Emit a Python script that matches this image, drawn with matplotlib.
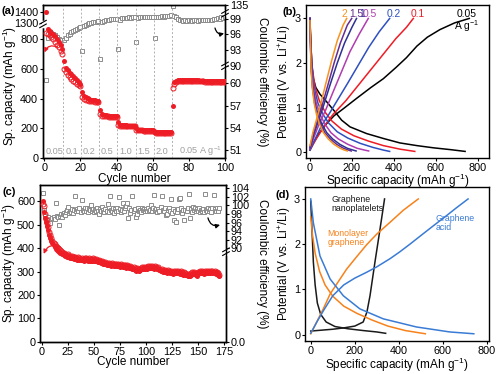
import numpy as np
import matplotlib
matplotlib.use("Agg")
import matplotlib.pyplot as plt
from matplotlib.ticker import FixedLocator, FixedFormatter

plt.rcParams['font.family'] = ['Liberation Sans', 'DejaVu Sans']
plt.rcParams['mathtext.fontset'] = 'custom'
plt.rcParams['mathtext.rm'] = 'Liberation Sans'
plt.rcParams['mathtext.it'] = 'Liberation Sans:italic'
narrow = ['Liberation Sans Narrow', 'Liberation Sans', 'DejaVu Sans']

# ---------------- panel (a): rate capability ----------------
a_cycle = list(range(1, 101))
a_discharge = [1400, 870, 855, 845, 835, 822, 800, 783, 762, 735,
               652, 608, 592, 575, 563, 550, 538, 525, 514, 502,
               445, 420, 410, 403, 398, 394, 390, 388, 386, 384,
               326, 296, 291, 288, 286, 284, 283, 282, 281, 280,
               240, 224, 222, 221, 220, 219, 219, 218, 218, 217,
               200, 192, 191, 190, 190, 189, 189, 188, 188, 188,
               178, 175, 174, 174, 173, 173, 173, 172, 172, 172,
               350, 510, 520, 525, 527, 527, 526, 526, 525, 525,
               524, 524, 523, 523, 523, 522, 522, 522, 521, 521,
               521, 520, 520, 520, 520, 519, 519, 519, 518, 518]
a_charge = [840, 838, 830, 818, 800, 785, 765, 745, 722, 700,
            598, 580, 560, 545, 532, 520, 510, 500, 492, 485,
            412, 400, 394, 389, 386, 383, 381, 379, 377, 376,
            300, 286, 283, 281, 280, 279, 278, 278, 277, 277,
            225, 218, 217, 216, 216, 215, 215, 215, 214, 214,
            190, 187, 186, 186, 185, 185, 185, 184, 184, 184,
            172, 170, 170, 169, 169, 169, 168, 168, 168, 168,
            470, 502, 512, 517, 519, 520, 520, 519, 519, 518,
            518, 518, 517, 517, 517, 516, 516, 516, 515, 515,
            515, 515, 514, 514, 514, 513, 513, 513, 512, 512]
a_ce = [60.5, 95.3, 96.5, 96.3, 96.0, 95.8, 95.5, 95.2, 95.0, 94.9,
        95.0, 95.4, 95.8, 96.1, 96.4, 96.6, 96.9, 97.1, 97.3, 97.5,
        92.8, 97.7, 97.9, 98.0, 98.1, 98.2, 98.3, 98.3, 98.4, 98.5,
        91.2, 98.4, 98.6, 98.7, 98.8, 98.8, 98.9, 98.9, 99.0, 99.0,
        93.3, 98.8, 99.1, 99.1, 99.2, 99.2, 99.3, 99.2, 99.3, 99.4,
        94.5, 99.2, 99.3, 99.3, 99.4, 99.3, 99.4, 99.4, 99.3, 99.4,
        95.4, 99.3, 99.4, 99.4, 99.5, 99.4, 99.5, 99.5, 99.6, 99.7,
        134.8, 99.6, 99.3, 99.0, 98.8, 98.7, 98.6, 98.7, 98.6, 98.7,
        98.7, 98.6, 98.7, 98.7, 98.6, 98.7, 98.7, 98.8, 98.7, 98.7,
        98.8, 98.7, 98.8, 98.9, 99.0, 99.2, 98.9, 99.4, 99.1, 99.3]
a_rate_labels = ["0.05", "0.1", "0.2", "0.5", "1.0", "1.5", "2.0", r"0.05 A g$^{-1}$"]
a_rate_pos = [5.5, 15.2, 24.9, 34.9, 45, 54.8, 65, 86.2]
a_rate_changes = [10.5, 20.5, 30.5, 40.5, 50.5, 60.5, 70.5]

# ---------------- panel (b): rate profiles, (capacity, potential) ----------------
b_rates = ["0.05", "0.1", "0.2", "0.5", "1", "1.5", "2"]
b_colors = ["black", "#ee1c25", "#2e4fc0", "#b03cb0", "#2e3192", "#662d91", "#f7931e"]
b_discharge = [
    [(0, 3.0), (2, 2.7), (5, 2.35), (9, 2.0), (16, 1.65), (28, 1.45), (48, 1.3), (80, 1.13), (119, 0.91),
     (151, 0.72), (191, 0.57), (270, 0.42), (350, 0.31), (429, 0.21), (510, 0.15), (590, 0.1), (670, 0.06),
     (740, 0.02)],
    [(0, 3.0), (3, 2.5), (10, 1.9), (25, 1.45), (45, 1.15), (75, 0.88), (105, 0.7), (150, 0.52),
     (210, 0.37), (280, 0.25), (350, 0.15), (430, 0.07), (500, 0.02)],
    [(0, 3.0), (3, 2.5), (9, 1.9), (20, 1.45), (38, 1.1), (62, 0.85), (90, 0.65), (130, 0.46),
     (180, 0.32), (240, 0.2), (300, 0.11), (350, 0.05), (380, 0.02)],
    [(0, 3.0), (2, 2.5), (7, 1.9), (16, 1.45), (30, 1.1), (48, 0.85), (70, 0.64), (100, 0.44),
     (135, 0.3), (180, 0.18), (225, 0.09), (260, 0.05), (280, 0.03)],
    [(0, 3.0), (2, 2.5), (6, 1.9), (13, 1.45), (24, 1.1), (38, 0.85), (56, 0.64), (80, 0.44),
     (108, 0.3), (142, 0.18), (178, 0.09), (205, 0.05), (220, 0.03)],
    [(0, 3.0), (2, 2.5), (5, 1.9), (12, 1.45), (22, 1.1), (34, 0.85), (50, 0.64), (71, 0.44),
     (97, 0.3), (127, 0.18), (160, 0.09), (183, 0.05), (197, 0.03)],
    [(0, 2.95), (2, 2.5), (5, 1.9), (11, 1.45), (20, 1.1), (31, 0.85), (45, 0.64), (64, 0.44),
     (87, 0.3), (114, 0.18), (144, 0.09), (164, 0.05), (178, 0.03)],
]
b_charge = [
    [(0, 0.05), (15, 0.2), (40, 0.4), (75, 0.62), (115, 0.82), (160, 0.98), (220, 1.2), (290, 1.45),
     (350, 1.65), (410, 1.9), (460, 2.12), (510, 2.38), (560, 2.58), (620, 2.75), (690, 2.9), (760, 3.0)],
    [(0, 0.05), (30, 0.3), (70, 0.6), (110, 0.85), (170, 1.15), (230, 1.5), (290, 1.85), (350, 2.2),
     (410, 2.55), (460, 2.8), (493, 3.0)],
    [(0, 0.05), (25, 0.3), (55, 0.6), (90, 0.85), (135, 1.2), (180, 1.55), (230, 1.95), (280, 2.35),
     (330, 2.7), (380, 3.0)],
    [(0, 0.08), (20, 0.35), (45, 0.65), (75, 0.95), (110, 1.35), (150, 1.8), (190, 2.25), (235, 2.65),
     (278, 3.0)],
    [(0, 0.1), (18, 0.4), (40, 0.7), (65, 1.05), (95, 1.5), (130, 2.0), (165, 2.45), (200, 2.8), (222, 3.0)],
    [(0, 0.12), (15, 0.4), (35, 0.7), (58, 1.05), (85, 1.5), (115, 2.0), (145, 2.45), (178, 2.85), (199, 3.0)],
    [(0, 0.15), (14, 0.45), (32, 0.75), (52, 1.1), (76, 1.55), (103, 2.05), (130, 2.5), (158, 2.85), (175, 3.0)],
]
b_label_x = [747, 514, 399, 286, 248, 219, 164]

# ---------------- panel (c): long cycling ----------------
c_cycle = list(range(1, 171))
c_charge = [590, 578, 545, 525, 507, 490, 470, 455, 443, 432,
            424, 418, 410, 404, 400, 395, 390, 386, 383, 380,
            378, 375, 372, 370, 373, 368, 366, 364, 367, 362,
            360, 363, 358, 356, 360, 357, 354, 358, 355, 352,
            356, 359, 355, 352, 357, 354, 350, 353, 356, 352,
            349, 353, 350, 347, 351, 345, 342, 346, 340, 337,
            341, 336, 333, 337, 334, 331, 335, 332, 330, 334,
            331, 328, 333, 330, 327, 331, 328, 325, 329, 326,
            323, 327, 324, 321, 325, 319, 315, 318, 313, 310,
            314, 311, 308, 312, 315, 318, 316, 320, 317, 321,
            318, 322, 319, 323, 320, 324, 321, 318, 322, 319,
            315, 318, 311, 307, 310, 306, 303, 307, 304, 301,
            305, 302, 299, 303, 300, 297, 301, 298, 302, 299,
            303, 300, 297, 301, 296, 293, 297, 292, 289, 286,
            290, 287, 293, 297, 294, 298, 295, 291, 288, 296,
            299, 302, 299, 303, 300, 297, 301, 298, 302, 299,
            303, 300, 304, 301, 298, 302, 297, 300, 293, 285]
c_discharge = [600, 555, 530, 512, 494, 476, 458, 442, 430, 420,
               412, 405, 398, 392, 388, 384, 381, 378, 375, 373,
               371, 368, 366, 364, 366, 361, 359, 357, 360, 356,
               354, 356, 352, 350, 353, 350, 348, 351, 349, 346,
               349, 352, 348, 346, 350, 347, 344, 347, 349, 346,
               343, 346, 344, 341, 344, 339, 336, 340, 334, 331,
               335, 330, 327, 331, 328, 325, 329, 326, 324, 328,
               325, 322, 327, 324, 321, 325, 322, 319, 323, 320,
               317, 321, 318, 315, 319, 313, 309, 312, 307, 304,
               308, 305, 302, 306, 309, 312, 310, 314, 311, 315,
               312, 316, 313, 317, 314, 318, 315, 312, 316, 313,
               309, 312, 305, 301, 304, 300, 297, 301, 298, 295,
               299, 296, 293, 297, 294, 291, 295, 292, 296, 293,
               297, 294, 291, 295, 290, 287, 291, 286, 283, 280,
               284, 281, 287, 291, 288, 292, 289, 285, 282, 290,
               293, 296, 293, 297, 294, 291, 295, 292, 296, 293,
               297, 294, 298, 295, 292, 296, 291, 294, 287, 280]
c_ce = [103.0, 98.9, 97.6, 97.0, 96.8, 97.2, 96.5, 96.0, 96.9, 97.0,
        97.3, 96.8, 100.5, 97.5, 97.2, 95.4, 97.6, 97.9, 97.4, 98.0,
        98.2, 97.8, 98.4, 99.0, 99.7, 98.3, 98.8, 98.5, 99.1, 98.2,
        98.9, 102.2, 98.6, 99.2, 98.7, 99.4, 98.5, 101.3, 99.0, 98.6,
        99.3, 98.8, 99.5, 98.4, 99.1, 98.9, 100.1, 98.7, 99.2, 98.5,
        99.0, 98.6, 99.4, 98.8, 97.9, 99.2, 98.7, 99.6, 98.9, 98.4,
        99.1, 98.8, 100.3, 98.5, 102.2, 99.0, 98.7, 99.3, 98.2, 99.1,
        98.8, 99.5, 98.6, 102.0, 99.2, 98.4, 99.0, 100.6, 98.7, 99.3,
        99.8, 100.5, 97.1, 99.4, 98.3, 99.0, 102.3, 98.6, 99.2, 97.3,
        98.1, 99.3, 98.7, 99.0, 98.5, 99.4, 98.9, 99.1, 98.6, 99.2,
        98.8, 99.5, 98.7, 99.0, 100.0, 98.6, 99.3, 102.4, 98.9, 99.1,
        98.4, 99.2, 98.8, 99.6, 102.2, 99.0, 98.7, 99.3, 97.8, 97.9,
        98.9, 99.4, 98.6, 101.4, 98.3, 99.2, 96.7, 98.8, 96.2, 98.5,
        99.1, 101.4, 101.8, 99.4, 98.2, 98.9, 96.6, 99.0, 98.6, 99.5,
        102.6, 97.0, 99.2, 98.4, 99.7, 98.9, 99.3, 98.6, 99.1, 98.8,
        99.4, 98.5, 99.0, 98.7, 99.2, 98.4, 102.7, 99.0, 98.6, 99.3,
        98.8, 99.1, 98.5, 99.4, 102.4, 99.2, 98.7, 99.5, 98.8, 99.3]

# ---------------- panel (d): material comparison, (capacity, potential) ----------------
d_names = ["Graphene\nnanoplatelets", "Monolayer\ngraphene", "Graphene\nacid"]
d_colors = ["#1a1a1a", "#f7821b", "#3a7bd5"]
d_discharge = [
    [(0, 2.95), (5, 2.4), (12, 1.6), (20, 1.1), (30, 0.7), (45, 0.45), (70, 0.28), (110, 0.18),
     (170, 0.13), (240, 0.09), (300, 0.06), (340, 0.03)],
    [(0, 2.6), (8, 2.2), (20, 1.8), (40, 1.4), (65, 1.1), (100, 0.85), (150, 0.63), (210, 0.47),
     (280, 0.32), (350, 0.19), (430, 0.09), (520, 0.02)],
    [(0, 3.0), (12, 2.47), (42, 1.74), (88, 1.23), (148, 0.86), (223, 0.57), (329, 0.35), (480, 0.17),
     (631, 0.06), (740, 0.02)],
]
d_charge = [
    [(0, 0.08), (50, 0.1), (100, 0.12), (150, 0.15), (200, 0.19), (238, 0.28), (255, 0.5), (269, 0.86),
     (291, 1.59), (314, 2.32), (335, 3.0)],
    [(0, 0.02), (57, 0.57), (88, 0.9), (118, 1.12), (163, 1.45), (208, 1.72), (254, 1.99), (299, 2.22),
     (359, 2.48), (420, 2.75), (488, 3.0)],
    [(0, 0.03), (30, 0.3), (60, 0.55), (100, 0.86), (150, 1.1), (200, 1.25), (254, 1.38), (300, 1.5),
     (360, 1.68), (404, 1.83), (450, 2.0), (510, 2.23), (560, 2.42), (616, 2.63), (660, 2.8), (714, 3.0)],
]
d_label_xy = [(95, 2.88), (75, 2.13), (568, 2.47)]

red = "#ee1c25"
gray = "#8c8c8c"
tick_fs = 7.8
lab_fs = 8.5


def piecewise(xp, fp):
    return (lambda v: np.interp(v, xp, fp), lambda p: np.interp(p, fp, xp))


def style(ax):
    ax.tick_params(direction='out', length=2.5, width=0.8, labelsize=tick_fs, pad=1.0)
    for s in ax.spines.values():
        s.set_linewidth(1.0)


def axis_break(ax, x, y):
    # gap in the spine plus the two slash marks
    kw = dict(transform=ax.transAxes, clip_on=False, zorder=10)
    ax.plot([x, x], [y - 0.012, y + 0.012], color='white', lw=2.5, **kw)
    ax.plot([x - 0.018, x + 0.018], [y - 0.024, y], color='black', lw=0.8, **kw)
    ax.plot([x - 0.018, x + 0.018], [y, y + 0.024], color='black', lw=0.8, **kw)


def arrow(ax, xy, xytext, color, rad):
    ax.annotate('', xy=xy, xycoords='axes fraction', xytext=xytext,
                arrowprops=dict(arrowstyle='-|>', color=color, lw=0.9, mutation_scale=6,
                                connectionstyle='arc3,rad=%s' % rad, shrinkA=0, shrinkB=0))


fig = plt.figure(figsize=(5, 3.74), dpi=100)

# ----- (a)
ax = fig.add_axes([0.086, 0.5775, 0.364, 0.409])
ax.set_yscale('function', functions=piecewise([0, 903, 1287, 1470], [0, 134, 134.01, 153]))
ax.set_ylim(0, 1470)
ax.set_xlim(-0.7, 100)
for xc in a_rate_changes:
    ax.axvline(xc, color='#b0b0b0', ls=(0, (2, 2)), lw=0.7, zorder=0)
ax.plot(a_cycle, a_charge, 'o', ms=3.6, mfc='none', mec=red, mew=0.7, zorder=3)
ax.plot(a_cycle, a_discharge, 'o', ms=3.6, color=red, mew=0, zorder=4)
ax.yaxis.set_major_locator(FixedLocator([0, 200, 400, 600, 800, 1300, 1400]))
ax.yaxis.set_major_formatter(FixedFormatter(['0', '200', '400', '600', '800', '1300', '1400']))
ax.set_xticks([0, 20, 40, 60, 80, 100])
ax.set_xlabel('Cycle number', fontsize=lab_fs, labelpad=0)
ax.set_ylabel(r'Sp. capacity (mAh g$^{-1}$)', fontsize=lab_fs)
ax.yaxis.set_label_coords(-0.132, 0.47)
for lab, xp in zip(a_rate_labels, a_rate_pos):
    ax.text(xp, 27, lab, color='#a0a0a0', fontsize=6.6, family=narrow, ha='center', va='baseline')
style(ax)
axis_break(ax, 0, 0.876)
arrow(ax, (0.008, 0.69), (0.08, 0.725), red, 0.5)
arrow(ax, (0.995, 0.815), (0.945, 0.85), 'black', 0.5)
ax.text(-0.228, 0.995, '(a)', transform=ax.transAxes, fontsize=8, fontweight='bold', va='top')

ax2 = ax.twinx()
ax2.set_yscale('function', functions=piecewise([49.92, 62.3, 90, 100.1, 133.4, 135],
                                                [0, 91.7, 92.3, 145.0, 145.01, 153]))
ax2.set_ylim(49.92, 135)
ax2.plot(a_cycle, a_ce, 's', ms=3.0, mfc='white', mec=gray, mew=0.7)
ax2.yaxis.set_major_locator(FixedLocator([51, 54, 57, 60, 90, 93, 96, 99, 135]))
ax2.yaxis.set_major_formatter(FixedFormatter(['51', '54', '57', '60', '90', '93', '96', '99', '135']))
ax2.set_ylabel('Coulombic efficiency (%)', fontsize=lab_fs, rotation=270)
ax2.yaxis.set_label_coords(1.236, 0.5)
style(ax2)
axis_break(ax2, 1, 0.603)
axis_break(ax2, 1, 0.946)
ax.set_zorder(ax2.get_zorder() + 1)
ax.patch.set_visible(False)

# ----- (b)
bx = fig.add_axes([0.612, 0.5775, 0.366, 0.409])
for dis, chg, col in zip(b_discharge, b_charge, b_colors):
    bx.plot([p[0] for p in dis], [p[1] for p in dis], color=col, lw=1.1)
    bx.plot([p[0] for p in chg], [p[1] for p in chg], color=col, lw=1.1)
for rate, col, xl in zip(b_rates, b_colors, b_label_x):
    bx.text(xl, 3.11, rate, color=col, fontsize=7.4, family=narrow, ha='center', va='center')
bx.text(747, 2.83, r'A g$^{-1}$', color='black', fontsize=7.4, ha='center', va='center')
bx.set_xlim(-19, 854)
bx.set_ylim(-0.128, 3.3)
bx.set_xticks([0, 200, 400, 600, 800])
bx.set_yticks([0, 1, 2, 3])
bx.set_xlabel(r'Specific capacity (mAh g$^{-1}$)', fontsize=lab_fs, labelpad=-0.5)
bx.set_ylabel(r'Potential (V vs. Li$^{+}$/Li)', fontsize=lab_fs)
bx.yaxis.set_label_coords(-0.071, 0.5)
style(bx)
bx.text(-0.131, 0.987, '(b)', transform=bx.transAxes, fontsize=8, fontweight='bold', va='top')

# ----- (c)
cx = fig.add_axes([0.08, 0.0864, 0.372, 0.419])
cx.plot(c_cycle, c_discharge, 'o', ms=3.6, color=red, mew=0, zorder=3)
cx.plot(c_cycle, c_charge, 'o', ms=3.6, mfc='none', mec=red, mew=0.7, zorder=4)
cx.set_xlim(-2, 177)
cx.set_ylim(0, 670)
cx.set_xticks([0, 25, 50, 75, 100, 125, 150, 175])
cx.set_yticks([0, 100, 200, 300, 400, 500, 600])
cx.set_xlabel('Cycle number', fontsize=lab_fs, labelpad=-0.5)
cx.set_ylabel(r'Sp. capacity (mAh g$^{-1}$)', fontsize=lab_fs)
cx.yaxis.set_label_coords(-0.118, 0.5)
style(cx)
arrow(cx, (0.02, 0.56), (0.108, 0.604), red, 0.5)
arrow(cx, (0.968, 0.745), (0.903, 0.79), 'black', 0.5)
cx.text(-0.204, 0.985, '(c)', transform=cx.transAxes, fontsize=8, fontweight='bold', va='top')

cx2 = cx.twinx()
cx2.set_yscale('function', functions=piecewise([0, 89.2, 104.77], [0, 90, 156.7]))
cx2.set_ylim(0, 104.77)
cx2.plot(c_cycle, c_ce, 's', ms=3.0, mfc='white', mec=gray, mew=0.7)
cx2.yaxis.set_major_locator(FixedLocator([0, 90, 92, 94, 96, 98, 100, 102, 104]))
cx2.yaxis.set_major_formatter(FixedFormatter(['0.0', '90', '92', '94', '96', '98', '100', '102', '104']))
cx2.set_ylabel('Coulombic efficiency (%)', fontsize=lab_fs, rotation=270)
cx2.yaxis.set_label_coords(1.226, 0.5)
style(cx2)
axis_break(cx2, 1, 0.574)
cx.set_zorder(cx2.get_zorder() + 1)
cx.patch.set_visible(False)

# ----- (d)
dx = fig.add_axes([0.61, 0.0875, 0.368, 0.412])
for dis, chg, col in zip(d_discharge, d_charge, d_colors):
    dx.plot([p[0] for p in dis], [p[1] for p in dis], color=col, lw=1.1)
    dx.plot([p[0] for p in chg], [p[1] for p in chg], color=col, lw=1.1)
for name, col, (xl, yl) in zip(d_names, d_colors, d_label_xy):
    dx.text(xl, yl, name, color=col, fontsize=6.3, ha='left', va='center', linespacing=1.0)
dx.set_xlim(-26, 809)
dx.set_ylim(-0.146, 3.26)
dx.set_xticks([0, 200, 400, 600, 800])
dx.set_yticks([0, 1, 2, 3])
dx.set_xlabel(r'Specific capacity (mAh g$^{-1}$)', fontsize=lab_fs, labelpad=-0.5)
dx.set_ylabel(r'Potential (V vs. Li$^{+}$/Li)', fontsize=lab_fs)
dx.yaxis.set_label_coords(-0.065, 0.5)
style(dx)
dx.text(-0.163, 0.983, '(d)', transform=dx.transAxes, fontsize=8, fontweight='bold', va='top')

fig.savefig('out.png', dpi=100)
